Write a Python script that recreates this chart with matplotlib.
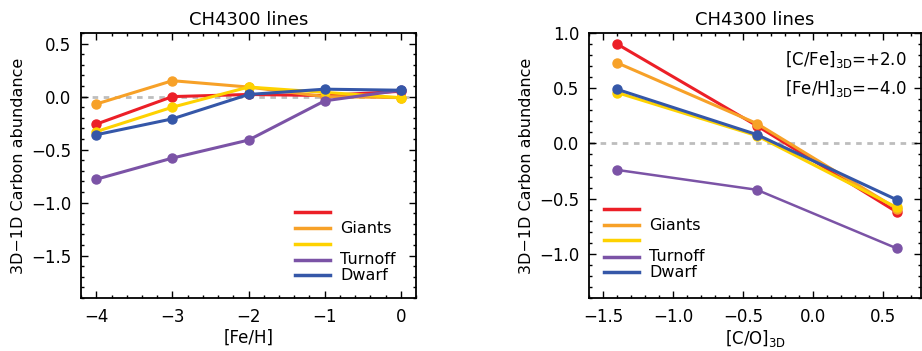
import matplotlib
matplotlib.use('Agg')
import matplotlib.pyplot as plt
from matplotlib.ticker import MultipleLocator

# Datos del panel izquierdo: [Fe/H]
feh = [-4, -3, -2, -1, 0]
izq_rojo = [-0.26, 0.00, 0.02, 0.01, 0.05]
izq_naranja = [-0.07, 0.15, 0.09, 0.00, -0.01]
izq_amarillo = [-0.33, -0.10, 0.09, 0.04, -0.01]
izq_morado = [-0.78, -0.58, -0.41, -0.04, 0.06]
izq_azul = [-0.36, -0.21, 0.02, 0.07, 0.06]

# Datos del panel derecho: [C/O]_3D
co = [-1.4, -0.4, 0.6]
der_rojo = [0.90, 0.16, -0.62]
der_naranja = [0.73, 0.18, -0.59]
der_amarillo = [0.46, 0.07, -0.58]
der_azul = [0.49, 0.08, -0.51]
der_morado = [-0.24, -0.42, -0.95]

etiquetas = ['', 'Giants', '', 'Turnoff', 'Dwarf']

rojo = '#ec1f27'
naranja = '#f7a128'
amarillo = '#fed200'
morado = '#7b53a6'
azul = '#3557a8'
colores = [rojo, naranja, amarillo, morado, azul]

plt.rcParams['font.family'] = 'DejaVu Sans'

fig = plt.figure(figsize=(9.22, 3.51), dpi=100)
ax1 = fig.add_axes([0.0879, 0.151, 0.3634, 0.755])
ax2 = fig.add_axes([0.639, 0.151, 0.360, 0.755])


def estilo(ax):
    for s in ax.spines.values():
        s.set_linewidth(1.3)
    ax.tick_params(which='both', direction='in', top=True, right=True,
                   labelsize=12, width=1.0)
    ax.tick_params(which='major', length=5, pad=7)
    ax.tick_params(which='minor', length=2.5)
    ax.set_title('CH4300 lines', fontsize=13, pad=6)
    ax.set_ylabel('3D\u22121D Carbon abundance', fontsize=11.5)
    ax.axhline(0, color='#bdbdbd', lw=2, ls=(0, (2, 2)), zorder=1)


def leyenda(ax, x0, x1, xt, ys):
    for c, y, t in zip(colores, ys, etiquetas):
        ax.plot([x0, x1], [y, y], color=c, lw=2.5, transform=ax.transAxes)
        if t:
            ax.text(xt, y, t, transform=ax.transAxes, va='center',
                    fontsize=11.5)


# Panel izquierdo
estilo(ax1)
for ys, c in zip([izq_rojo, izq_naranja, izq_amarillo, izq_morado, izq_azul],
                 [rojo, naranja, amarillo, morado, azul]):
    ax1.plot(feh, ys, color=c, lw=2.2, marker='o', ms=6.5, zorder=3)
ax1.set_xlim(-4.2, 0.2)
ax1.set_ylim(-1.9, 0.6)
ax1.xaxis.set_major_locator(MultipleLocator(1))
ax1.xaxis.set_minor_locator(MultipleLocator(0.2))
ax1.yaxis.set_major_locator(MultipleLocator(0.5))
ax1.yaxis.set_minor_locator(MultipleLocator(0.1))
ax1.set_xlabel('[Fe/H]', fontsize=12, labelpad=2)
leyenda(ax1, 0.638, 0.742, 0.773, [0.325, 0.264, 0.204, 0.145, 0.085])

# Panel derecho
estilo(ax2)
for ys, c, lw in zip([der_rojo, der_naranja, der_amarillo, der_azul, der_morado],
                     [rojo, naranja, amarillo, azul, morado],
                     [2.2, 2.2, 2.2, 2.2, 1.8]):
    ax2.plot(co, ys, color=c, lw=lw, marker='o', ms=6.5, zorder=3)
ax2.set_xlim(-1.6, 0.775)
ax2.set_ylim(-1.4, 1.0)
ax2.xaxis.set_major_locator(MultipleLocator(0.5))
ax2.xaxis.set_minor_locator(MultipleLocator(0.1))
ax2.yaxis.set_major_locator(MultipleLocator(0.5))
ax2.yaxis.set_minor_locator(MultipleLocator(0.1))
ax2.set_xlabel('[C/O]$_{\\mathregular{3D}}$', fontsize=12, labelpad=2)
leyenda(ax2, 0.044, 0.150, 0.180, [0.335, 0.275, 0.218, 0.156, 0.097])
ax2.text(0.958, 0.901, '[C/Fe]$_{\\mathregular{3D}}$=+2.0', transform=ax2.transAxes,
         ha='right', va='center', fontsize=12)
ax2.text(0.958, 0.791, '[Fe/H]$_{\\mathregular{3D}}$=\u22124.0', transform=ax2.transAxes,
         ha='right', va='center', fontsize=12)

fig.savefig('out.png', dpi=100)
